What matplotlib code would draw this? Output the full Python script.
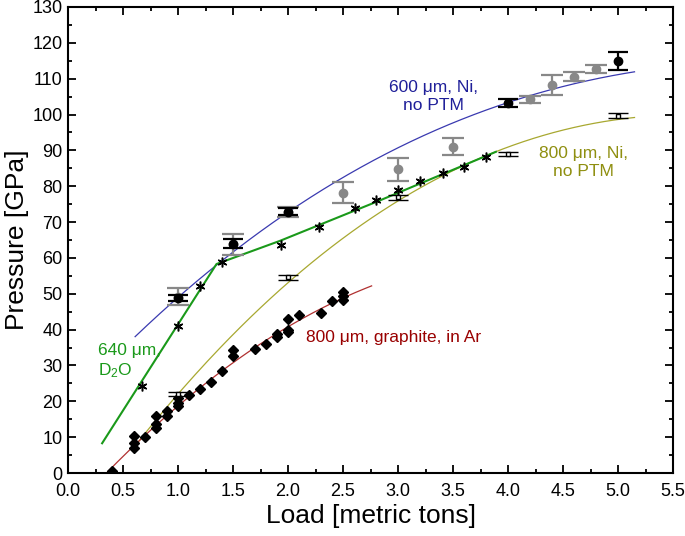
import numpy as np
import matplotlib
matplotlib.use('Agg')
import matplotlib.pyplot as plt
from matplotlib.ticker import MultipleLocator, FormatStrFormatter

plt.rcParams['font.family'] = ['Liberation Sans', 'DejaVu Sans']
plt.rcParams['mathtext.default'] = 'regular'

# 600 um, Ni, no PTM - black points
ni600_x = [1.0, 1.5, 2.0, 4.0, 5.0]
ni600_y = [48.9, 63.9, 72.9, 103.3, 114.9]
ni600_err = [0.8, 1.25, 0.9, 1.15, 2.5]

# 600 um, Ni, no PTM - gray points
ni600g_x = [1.0, 1.5, 2.0, 2.5, 3.0, 3.5, 4.2, 4.4, 4.6, 4.8]
ni600g_y = [49.2, 63.8, 72.9, 78.2, 84.7, 91.0, 104.3, 108.3, 110.6, 112.7]
ni600g_err = [2.3, 3.0, 1.4, 3.0, 3.2, 2.4, 0.95, 2.85, 1.25, 1.2]

# 800 um, Ni, no PTM - open markers
ni800_x = [1.0, 2.0, 3.0, 4.0, 5.0]
ni800_y = [22.0, 54.6, 76.9, 89.0, 99.7]
ni800_err = [0.5, 0.7, 0.7, 0.6, 0.6]

# 640 um, D2O - asterisks
d2o_x = [0.67, 1.0, 1.2, 1.4, 1.94, 2.28, 2.61, 2.8, 3.0, 3.2, 3.41, 3.6, 3.8]
d2o_y = [24.4, 41.1, 52.2, 58.9, 63.6, 68.5, 73.8, 76.1, 78.9, 81.5, 83.6, 85.4, 88.2]

# 800 um, graphite, in Ar - diamonds
gr_x = [0.4, 0.6, 0.6, 0.6, 0.7, 0.8, 0.8, 0.8, 0.9, 0.9, 1.0, 1.0, 1.0, 1.1, 1.2,
        1.3, 1.4, 1.5, 1.5, 1.7, 1.8, 1.9, 1.9, 2.0, 2.0, 2.0, 2.1, 2.3, 2.4, 2.5, 2.5, 2.5]
gr_y = [0.6, 10.4, 8.3, 7.0, 10.1, 15.8, 13.7, 12.5, 17.3, 15.8, 21.0, 19.6, 18.6, 21.8, 23.3,
        25.3, 28.5, 34.3, 32.6, 34.5, 35.9, 38.8, 38.0, 42.9, 40.0, 39.3, 44.1, 44.7, 48.1, 50.4, 49.4, 48.3]

# guide curves
blue_x = [0.61, 1.0, 1.35, 1.93, 2.84, 3.54, 4.0, 4.4, 5.15]
blue_y = [38.0, 49.0, 58.0, 71.5, 87.8, 98.5, 103.3, 107.0, 111.9]
olive_x = [0.58, 1.0, 1.53, 2.16, 3.0, 3.75, 4.5, 5.15]
olive_y = [6.5, 22.0, 39.5, 57.1, 76.4, 87.5, 95.7, 99.2]
red_x = [0.34, 0.9, 1.41, 2.0, 2.76]
red_y = [0.0, 15.5, 28.7, 41.3, 52.0]
green_x = [0.31, 1.35, 1.93, 2.84, 3.89]
green_y = [8.3, 58.3, 64.8, 76.1, 89.6]

fig = plt.figure(figsize=(6.85, 5.36), dpi=100)
ax = fig.add_axes([0.0993, 0.1175, 0.8832, 0.8695])

def smooth(xs, ys, deg):
    c = np.polyfit(xs, ys, deg)
    xx = np.linspace(xs[0], xs[-1], 200)
    return xx, np.polyval(c, xx)

bx, by = smooth(blue_x, blue_y, 3)
ax.plot(bx, by, color='#3a3ab0', lw=0.9, zorder=2)
ox, oy = smooth(olive_x, olive_y, 3)
ax.plot(ox, oy, color='#a8a830', lw=0.9, zorder=2)
rx, ry = smooth(red_x, red_y, 2)
ax.plot(rx, ry, color='#b03030', lw=0.9, zorder=2)
ax.plot(green_x, green_y, color='#1a991a', lw=1.5, zorder=2)

ax.errorbar(ni600g_x, ni600g_y, yerr=ni600g_err, fmt='o', color='#888888', ms=6,
            capsize=8, elinewidth=1.6, capthick=1.6, zorder=3)
ax.errorbar(ni600_x, ni600_y, yerr=ni600_err, fmt='o', color='black', ms=6,
            capsize=7, elinewidth=1.6, capthick=1.6, zorder=4)
ax.errorbar(ni800_x, ni800_y, yerr=ni800_err, fmt='s', color='black', mfc='white', ms=3.5,
            mew=1, capsize=7, elinewidth=1.2, capthick=1.6, zorder=4)
ax.plot(d2o_x, d2o_y, ls='none', marker=(6, 2, 0), color='black', ms=7, mew=1.1, zorder=4)
ax.plot(gr_x, gr_y, ls='none', marker='D', color='black', ms=5, zorder=4)

ax.text(3.32, 105, '600 μm, Ni,\nno PTM', color='#1f1f99', fontsize=12.5,
        ha='center', va='center', linespacing=1.25)
ax.text(4.69, 86.7, '800 μm, Ni,\nno PTM', color='#8f8f10', fontsize=12.5,
        ha='center', va='center', linespacing=1.25)
ax.text(0.27, 31, '640 μm,\nD$_2$O', color='#1a991a', fontsize=12.5,
        ha='left', va='center', linespacing=1.25)
ax.text(2.16, 37.7, '800 μm, graphite, in Ar', color='#990000', fontsize=12.5,
        ha='left', va='center')

ax.set_xlim(0, 5.5)
ax.set_ylim(0, 130)
ax.xaxis.set_major_locator(MultipleLocator(0.5))
ax.xaxis.set_minor_locator(MultipleLocator(0.25))
ax.yaxis.set_major_locator(MultipleLocator(10))
ax.yaxis.set_minor_locator(MultipleLocator(5))
ax.xaxis.set_major_formatter(FormatStrFormatter('%.1f'))
ax.tick_params(which='both', direction='in', top=True, right=True, width=1.3, labelsize=13)
ax.tick_params(which='major', length=6)
ax.tick_params(which='minor', length=3)
ax.tick_params(axis='x', which='major', pad=7)
ax.tick_params(axis='y', which='major', pad=4)
for s in ax.spines.values():
    s.set_linewidth(1.5)

ax.set_xlabel('Load [metric tons]', fontsize=19, labelpad=3)
ax.set_ylabel('Pressure [GPa]', fontsize=19, labelpad=2)

fig.savefig('out.png', dpi=100)
